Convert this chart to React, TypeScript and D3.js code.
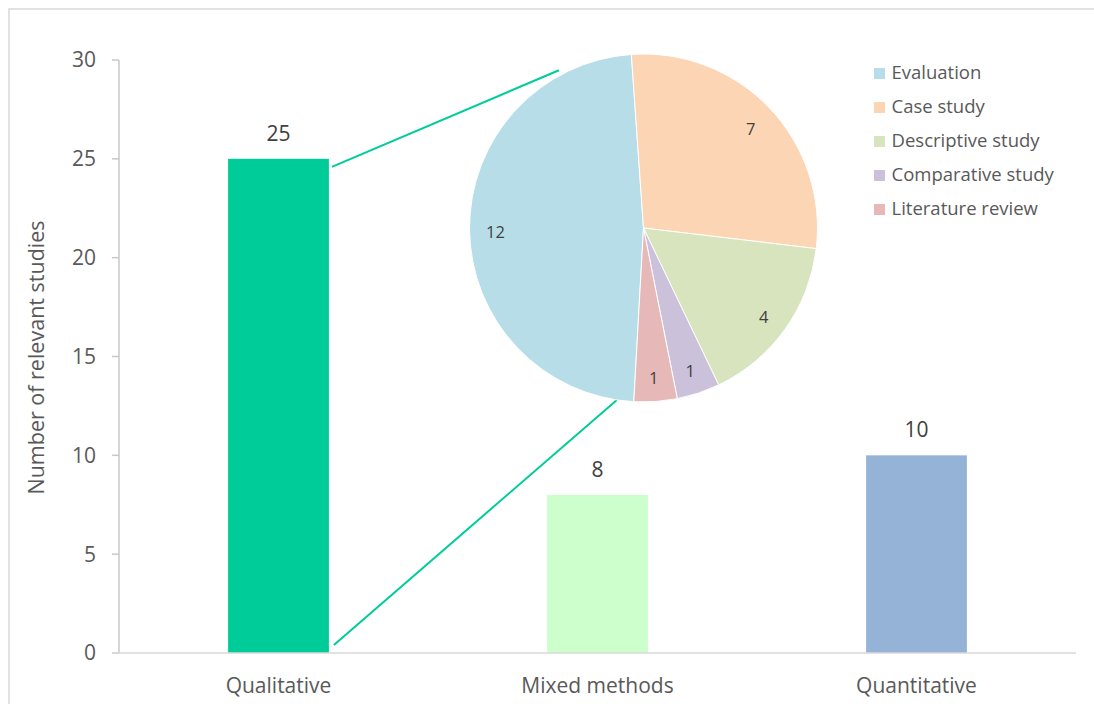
import React from "react";
import * as d3 from "d3";

const categories = ["Qualitative", "Mixed methods", "Quantitative"];
const barValues = [25, 8, 10];
const barColors = ["#00CC99", "#CCFFCC", "#95B3D7"];
const yTicks = [0, 5, 10, 15, 20, 25, 30];

const pieLabels = ["Evaluation", "Case study", "Descriptive study", "Comparative study", "Literature review"];
const pieValues = [12, 7, 4, 1, 1];
const pieColors = ["#B7DEE8", "#FCD5B5", "#D7E4BD", "#CCC1DA", "#E6B9B8"];

const W = 1094;
const H = 704;
const FONT = "'Open Sans', 'Noto Sans', sans-serif";
const TEXT = "#595959";

export default function App() {
  const x = d3.scaleBand<string>().domain(categories).range([119, 1076]).paddingInner(0.684).paddingOuter(0.342);
  const y = d3.scaleLinear().domain([0, 30]).range([653, 60]);

  const cx = 643.5, cy = 228, R = 174;
  const deg = Math.PI / 180;
  const pie = d3.pie<number>().sort(null).value(d => d).startAngle(183.2 * deg).endAngle(543.2 * deg);
  const arcs = pie(pieValues);
  const arc = d3.arc<d3.PieArcDatum<number>>().innerRadius(0).outerRadius(R);
  const labelArc = d3.arc<d3.PieArcDatum<number>>().innerRadius(148).outerRadius(148);

  const q = categories[0];
  const qx = (x(q) as number) + x.bandwidth();
  const p1 = [cx + 179 * Math.sin(331.8 * deg), cy - 179 * Math.cos(331.8 * deg)];
  const p2 = [cx + 174 * Math.sin(188.8 * deg), cy - 174 * Math.cos(188.8 * deg)];

  return (
    <svg width={W} height={H} style={{ position: "fixed", left: 0, top: 0, background: "#fff" }} fontFamily={FONT}>
      <rect x={9} y={9} width={W + 20} height={H + 20} fill="#fff" stroke="#D9D9D9" strokeWidth={1.5} />

      {/* y axis */}
      <line x1={119} x2={119} y1={y(30)} y2={y(0)} stroke="#C8C8C8" strokeWidth={1.5} />
      {yTicks.map(t => (
        <g key={t}>
          <line x1={112} x2={119} y1={y(t)} y2={y(t)} stroke="#C8C8C8" strokeWidth={1.5} />
          <text x={96} y={y(t)} dy="0.35em" textAnchor="end" fontSize={21} fill={TEXT}>{t}</text>
        </g>
      ))}
      <text transform={`translate(36,${(y(0) + y(30)) / 2 + 1}) rotate(-90)`} dy="0.35em" textAnchor="middle" fontSize={21.5} fill={TEXT}>
        Number of relevant studies
      </text>

      {/* bars */}
      {categories.map((c, i) => (
        <g key={c}>
          <rect x={x(c)} y={y(barValues[i])} width={x.bandwidth()} height={y(0) - y(barValues[i])} fill={barColors[i]} />
          <text x={(x(c) as number) + x.bandwidth() / 2} y={y(barValues[i]) - 18} textAnchor="middle" fontSize={21} fill="#404040">{barValues[i]}</text>
          <text x={(x(c) as number) + x.bandwidth() / 2} y={686} dy="0.35em" textAnchor="middle" fontSize={21} fill={TEXT}>{c}</text>
        </g>
      ))}

      {/* x axis */}
      <line x1={112} x2={1076} y1={y(0)} y2={y(0)} stroke="#D9D9D9" strokeWidth={1.5} />

      {/* leader lines */}
      <line x1={qx + 3} y1={y(barValues[0]) + 8} x2={p1[0]} y2={p1[1]} stroke="#00CC99" strokeWidth={2} />
      <line x1={qx + 5} y1={y(0) - 8} x2={p2[0]} y2={p2[1]} stroke="#00CC99" strokeWidth={2} />

      {/* pie */}
      <g transform={`translate(${cx},${cy})`}>
        {arcs.map((a, i) => (
          <path key={i} d={arc(a) as string} fill={pieColors[i]} stroke="#fff" strokeWidth={1} />
        ))}
        {arcs.map((a, i) => {
          const [lx, ly] = labelArc.centroid(a);
          return (
            <text key={"l" + i} x={lx} y={ly + 3} dy="0.35em" textAnchor="middle" fontSize={16.5} fill="#404040">{pieValues[i]}</text>
          );
        })}
      </g>

      {/* legend */}
      {pieLabels.map((l, i) => (
        <g key={l} transform={`translate(874,${68 + i * 34})`}>
          <rect x={0} y={0} width={11} height={11} fill={pieColors[i]} />
          <text x={17.5} y={5} dy="0.35em" fontSize={18.5} fill={TEXT}>{l}</text>
        </g>
      ))}
    </svg>
  );
}
